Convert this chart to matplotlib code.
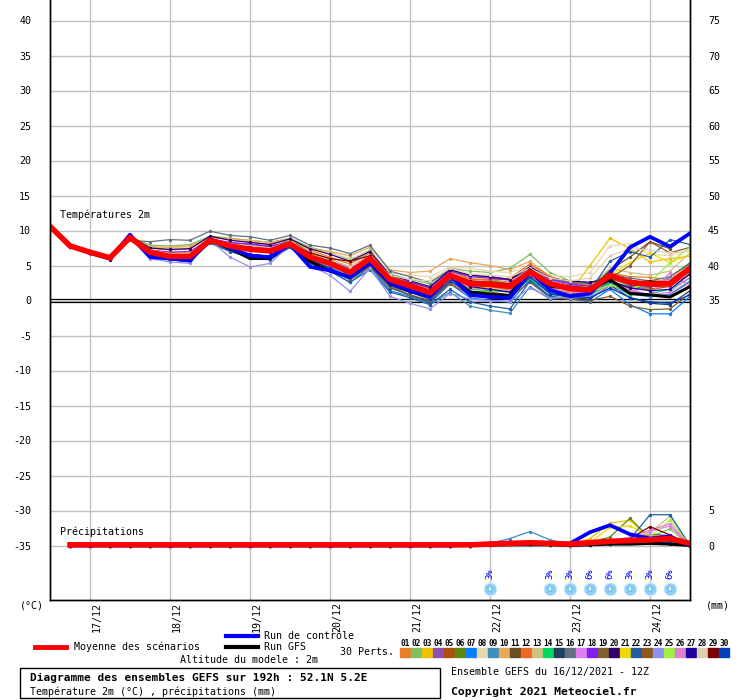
import matplotlib
matplotlib.use("Agg")
import matplotlib.pyplot as plt
from matplotlib.lines import Line2D
from matplotlib.patches import Rectangle

# forecast steps (hours from 16/12 12Z)
hours = list(range(0, 193, 6))
day_hours = [12, 36, 60, 84, 108, 132, 156, 180]
day_labels = ['17/12', '18/12', '19/12', '20/12', '21/12', '22/12', '23/12', '24/12']
left_ticks = [40, 35, 30, 25, 20, 15, 10, 5, 0, -5, -10, -15, -20, -25, -30, -35]
right_labels = ['75', '70', '65', '60', '55', '50', '45', '40', '35', '', '', '', '', '', '5', '0']

# temperature 2m, mean / control / GFS
mean_t = [10.6, 7.8, 6.9, 6.1, 9.0, 6.9, 6.3, 6.3, 8.6, 7.8, 7.3, 7.1, 8.1, 6.2, 5.3, 4.0, 6.0,
          3.0, 2.1, 1.1, 3.6, 2.4, 2.3, 2.0, 4.1, 2.4, 1.7, 1.5, 3.6, 2.6, 2.3, 2.4, 4.6]
ctrl_t = [10.6, 7.8, 6.8, 6.0, 9.4, 6.2, 6.0, 5.7, 8.8, 7.5, 6.4, 6.2, 8.0, 4.8, 4.3, 3.3, 5.4,
          2.5, 1.4, 0.6, 3.6, 0.8, 0.5, 0.4, 4.1, 1.5, 0.6, 1.0, 3.9, 7.6, 9.1, 7.7, 9.6]
gfs_t = [10.6, 7.8, 6.8, 6.0, 9.3, 6.5, 6.0, 5.8, 8.7, 7.4, 6.0, 6.0, 8.1, 5.6, 4.2, 3.4, 5.5,
         2.4, 1.3, 0.6, 3.4, 1.2, 0.9, 0.7, 4.4, 2.0, 1.8, 1.5, 3.0, 1.0, 0.8, 0.5, 2.0]

m01_t = [10.7, 7.9, 7.0, 6.2, 9.2, 7.5, 7.2, 7.4, 9.1, 8.7, 8.4, 8.0, 8.8, 7.2, 6.2, 5.2, 6.8, 3.4, 2.6, 1.8, 4.3, 3.1, 3.0, 2.6, 4.8, 3.2, 2.5, 2.2, 4.0, 3.4, 3.3, 3.0, 5.0]
m02_t = [10.5, 7.8, 6.9, 6.0, 9.1, 7.9, 7.8, 8.0, 9.2, 8.9, 8.6, 8.3, 8.9, 7.6, 6.9, 5.8, 7.2, 3.8, 3.0, 2.4, 4.6, 4.2, 4.0, 4.6, 6.6, 4.0, 2.8, 2.5, 3.2, 2.0, 1.5, 2.6, 4.0]
m03_t = [10.6, 7.7, 6.8, 6.0, 8.9, 6.8, 6.3, 6.4, 8.6, 7.8, 7.3, 7.0, 8.1, 6.4, 5.2, 3.9, 5.6, 2.6, 1.8, 0.8, 3.2, 2.0, 1.8, 1.5, 3.6, 1.8, 1.2, 5.0, 8.9, 7.4, 5.5, 6.0, 6.3]
m04_t = [10.6, 7.9, 6.9, 6.1, 9.0, 6.9, 6.4, 6.5, 8.8, 8.2, 8.1, 7.8, 8.4, 6.2, 5.4, 4.0, 5.5, 2.4, 1.4, 0.4, 3.0, 2.2, 2.0, 1.6, 3.8, 2.8, 2.2, 2.0, 3.0, 1.2, 0.6, 0.9, 2.6]
m05_t = [10.7, 7.7, 6.7, 5.9, 9.1, 6.3, 5.8, 5.6, 8.3, 7.2, 6.6, 6.3, 7.6, 5.5, 4.4, 3.0, 5.0, 2.0, 1.2, 0.2, 2.6, 1.3, 1.2, 0.8, 3.2, 1.6, 1.0, 0.8, 2.4, 1.8, 1.6, 2.0, 3.8]
m06_t = [10.6, 7.8, 6.8, 6.0, 9.4, 7.2, 6.6, 6.8, 9.0, 8.0, 7.5, 7.2, 8.8, 6.8, 5.6, 4.4, 6.0, 3.0, 2.2, 1.2, 3.8, 2.6, 2.8, 2.4, 4.4, 2.2, 1.4, 1.2, 2.6, 2.0, 1.8, 3.4, 5.4]
m07_t = [10.5, 7.7, 6.8, 6.0, 8.8, 6.4, 5.8, 5.6, 8.3, 7.1, 6.2, 5.8, 7.6, 5.3, 4.2, 2.6, 4.8, 1.4, 0.6, -0.4, 2.4, 0.4, 0.0, -0.2, 3.0, 0.6, 0.2, -0.2, 1.6, -0.6, -1.9, -1.9, 0.6]
m08_t = [10.6, 7.9, 7.0, 6.3, 9.0, 7.6, 7.5, 7.6, 9.0, 8.7, 8.5, 8.2, 8.7, 7.5, 6.8, 6.0, 7.0, 4.0, 3.6, 3.4, 4.8, 4.6, 4.2, 4.0, 5.0, 3.6, 3.4, 4.0, 7.8, 8.1, 6.6, 6.4, 7.2]
m09_t = [10.6, 7.8, 6.9, 6.1, 8.9, 6.8, 6.2, 6.1, 8.5, 7.7, 7.2, 6.8, 8.0, 6.3, 5.0, 3.6, 5.2, 2.0, 0.8, -0.6, 1.2, -0.8, -1.4, -1.8, 2.0, 0.2, 0.4, 0.8, 2.6, 1.0, 0.5, 0.9, 2.8]
m10_t = [10.6, 7.9, 7.1, 6.3, 9.2, 7.7, 7.6, 7.8, 9.0, 8.8, 8.6, 8.3, 8.8, 7.4, 7.0, 6.4, 7.6, 4.4, 4.0, 4.2, 6.0, 5.4, 5.0, 4.4, 5.6, 3.4, 2.6, 2.2, 3.4, 2.8, 2.4, 2.8, 4.4]
m11_t = [10.6, 7.8, 6.9, 6.1, 9.1, 7.1, 6.6, 6.7, 8.7, 7.9, 7.4, 7.2, 8.3, 6.5, 5.4, 4.2, 5.8, 2.8, 1.9, 1.0, 3.4, 2.3, 2.1, 1.9, 3.9, 2.3, 1.5, 1.6, 4.4, 6.2, 8.4, 7.4, 9.6]
m12_t = [10.6, 7.8, 6.9, 6.2, 9.0, 7.2, 6.8, 6.9, 8.7, 8.1, 7.8, 7.6, 8.2, 6.9, 5.9, 4.8, 6.4, 3.4, 2.6, 1.6, 4.0, 3.0, 2.9, 3.2, 5.2, 3.4, 2.6, 2.2, 3.0, 2.4, 2.6, 3.0, 4.8]
m13_t = [10.5, 7.8, 6.9, 6.1, 8.8, 6.9, 6.5, 6.6, 8.6, 8.0, 7.7, 7.5, 8.2, 6.7, 5.7, 4.5, 6.1, 3.2, 2.4, 1.5, 4.0, 2.8, 2.6, 2.4, 4.2, 2.8, 2.0, 2.0, 4.6, 4.0, 3.6, 4.2, 6.8]
m14_t = [10.6, 7.7, 6.8, 6.0, 9.0, 7.0, 6.4, 6.4, 8.6, 7.8, 7.4, 7.0, 8.2, 6.4, 5.2, 4.0, 5.6, 2.4, 1.6, 0.6, 3.2, 1.6, 1.4, 1.2, 3.0, 1.2, 0.6, 0.8, 2.4, 0.8, 1.0, 1.6, 3.2]
m15_t = [10.6, 7.8, 6.8, 6.0, 9.1, 6.5, 5.8, 5.6, 8.4, 7.2, 6.4, 6.0, 7.8, 5.5, 4.5, 3.0, 5.0, 1.8, 0.8, -0.2, 2.8, 0.8, 0.4, 0.2, 3.4, 1.0, 0.4, 0.2, 2.2, 0.4, -0.4, -0.6, 1.4]
m16_t = [10.6, 7.9, 7.0, 6.2, 8.6, 8.4, 8.7, 8.6, 9.9, 9.3, 9.1, 8.6, 9.3, 7.9, 7.5, 6.7, 7.9, 4.2, 3.4, 2.6, 4.4, 3.6, 3.4, 3.0, 4.6, 3.0, 2.6, 2.4, 3.8, 3.2, 2.8, 3.4, 5.2]
m17_t = [10.6, 7.8, 6.9, 6.0, 8.9, 6.8, 6.2, 6.2, 8.8, 7.8, 7.2, 6.9, 8.4, 6.3, 5.1, 3.8, 5.4, 2.2, 1.2, 0.2, 2.8, 1.0, 0.6, 0.4, 3.6, 1.6, 0.8, 0.4, 2.2, 1.6, 0.8, 1.2, 3.4]
m18_t = [10.6, 7.8, 6.9, 6.1, 9.0, 7.2, 6.9, 7.0, 8.8, 8.3, 8.0, 7.7, 8.4, 6.8, 5.8, 4.6, 6.2, 3.2, 2.6, 1.8, 4.2, 3.4, 3.2, 2.9, 4.8, 3.0, 2.4, 2.0, 3.4, 2.2, 2.0, 2.2, 4.4]
m19_t = [10.6, 7.7, 6.8, 6.0, 9.0, 6.6, 6.0, 5.8, 8.3, 7.3, 6.6, 6.3, 7.9, 5.7, 4.6, 3.0, 4.8, 1.9, 0.8, 0.0, 2.4, 0.8, 0.6, 0.5, 2.6, 0.4, 0.2, 0.0, 0.6, -0.8, -1.3, -1.2, 1.0]
m20_t = [10.6, 7.8, 6.9, 6.1, 9.2, 7.5, 7.3, 7.4, 9.2, 8.6, 8.3, 8.0, 8.8, 7.4, 6.6, 5.6, 7.0, 3.6, 2.8, 2.0, 4.4, 3.6, 3.4, 3.0, 4.8, 3.2, 2.8, 2.6, 3.2, 2.6, 2.2, 2.6, 4.2]
m21_t = [10.6, 7.8, 6.9, 6.1, 9.0, 7.0, 6.4, 6.5, 8.6, 7.9, 7.5, 7.2, 8.2, 6.6, 5.5, 4.3, 5.9, 2.8, 1.9, 0.9, 3.4, 2.2, 2.0, 1.7, 3.8, 2.0, 1.5, 1.6, 3.6, 5.4, 6.8, 5.4, 6.6]
m22_t = [10.6, 7.8, 6.8, 6.0, 8.9, 6.4, 5.8, 5.7, 8.2, 7.0, 6.2, 5.9, 7.6, 5.4, 4.2, 2.6, 4.4, 1.2, 0.4, -0.6, 1.6, -0.2, -0.8, -1.2, 2.8, 0.6, 0.8, 1.4, 5.6, 7.0, 6.2, 8.7, 8.0]
m23_t = [10.6, 7.8, 6.9, 6.1, 9.1, 7.1, 6.7, 6.8, 8.7, 8.1, 7.7, 7.4, 8.4, 6.7, 5.6, 4.4, 6.0, 3.0, 2.2, 1.2, 3.6, 2.6, 2.4, 2.2, 4.2, 2.6, 2.0, 1.8, 3.2, 5.0, 8.4, 6.8, 7.6]
m24_t = [10.5, 7.7, 6.7, 5.8, 8.8, 6.0, 5.5, 5.3, 8.6, 6.2, 4.8, 5.3, 7.9, 5.0, 3.6, 1.3, 4.6, 0.6, -0.4, -1.2, 1.0, 0.2, 0.0, -0.2, 1.8, 0.4, 0.4, 0.6, 1.6, 1.2, 2.2, 3.2, 2.4]
m25_t = [10.6, 7.8, 6.9, 6.1, 9.0, 7.1, 6.6, 6.7, 8.7, 8.0, 7.6, 7.4, 8.3, 6.6, 5.6, 4.4, 6.0, 3.0, 2.2, 1.2, 3.8, 2.6, 2.4, 2.2, 4.2, 2.2, 1.6, 1.2, 2.2, 1.6, 2.6, 5.4, 7.6]
m26_t = [10.6, 7.8, 6.9, 6.1, 9.0, 6.9, 6.4, 6.4, 8.6, 7.9, 7.5, 7.2, 8.2, 6.4, 5.3, 4.0, 5.7, 2.6, 1.6, 0.6, 3.2, 1.8, 1.6, 1.4, 3.4, 1.8, 1.2, 1.0, 3.0, 1.4, 0.8, 4.0, 2.0]
m27_t = [10.6, 7.8, 6.9, 6.1, 9.1, 7.0, 6.5, 6.5, 8.7, 7.8, 7.3, 7.0, 8.2, 6.4, 5.3, 4.1, 5.8, 2.8, 2.0, 1.0, 3.6, 2.0, 1.6, 1.2, 4.4, 2.4, 2.0, 1.8, 2.8, 1.8, 1.4, 1.6, 3.8]
m28_t = [10.6, 7.8, 6.9, 6.1, 9.0, 7.2, 6.7, 6.8, 8.8, 8.1, 7.8, 7.5, 8.4, 6.8, 5.8, 4.8, 6.2, 3.6, 3.0, 2.8, 4.6, 3.8, 3.6, 3.4, 4.6, 3.2, 2.8, 3.2, 6.4, 7.4, 7.2, 6.8, 7.0]
m29_t = [10.6, 7.7, 6.8, 5.8, 8.9, 6.9, 6.4, 6.4, 8.6, 7.9, 7.6, 7.3, 8.2, 6.8, 6.0, 5.6, 6.4, 3.2, 2.4, 1.4, 3.8, 2.8, 2.6, 2.4, 4.2, 2.4, 1.8, 1.6, 3.4, 2.6, 2.8, 2.6, 4.4]
m30_t = [10.6, 7.8, 6.9, 6.0, 9.0, 6.5, 6.0, 5.8, 8.4, 7.3, 6.6, 6.3, 7.9, 5.8, 4.7, 3.3, 5.2, 2.2, 1.2, 0.2, 2.8, 1.2, 0.8, 0.6, 3.4, 1.0, 0.6, 0.4, 1.8, 0.4, -0.2, -0.4, 0.8]

# 6h precipitation (mm) from +6h; members dry before +120h
dry = [0.0] * 19
mean_p = [0.1] * 19 + [0.1, 0.1, 0.2, 0.3, 0.4, 0.3, 0.2, 0.4, 0.6, 0.7, 0.8, 1.0, 0.3]
ctrl_p = dry + [0.0, 0.1, 0.1, 0.2, 0.3, 0.2, 0.3, 1.9, 2.9, 1.6, 1.0, 1.3, 0.0]
gfs_p = dry + [0.0, 0.0, 0.1, 0.1, 0.1, 0.1, 0.0, 0.1, 0.2, 0.2, 0.3, 0.2, 0.0]

m01_p = dry + [0.0, 0.1, 0.1, 0.2, 0.3, 0.2, 0.1, 0.2, 0.3, 0.5, 0.4, 0.6, 0.0]
m02_p = dry + [0.0, 0.0, 0.1, 0.1, 0.2, 0.1, 0.1, 0.2, 0.2, 0.8, 1.2, 2.4, 0.0]
m03_p = dry + [0.0, 0.0, 0.0, 0.2, 0.3, 0.1, 0.1, 1.0, 3.2, 3.6, 1.0, 0.6, 0.0]
m04_p = dry + [0.0, 0.1, 0.4, 0.3, 0.4, 0.2, 0.2, 0.3, 0.2, 0.4, 0.3, 0.5, 0.0]
m05_p = dry + [0.0, 0.0, 0.1, 0.1, 0.1, 0.1, 0.0, 0.2, 0.3, 0.4, 0.6, 0.5, 0.0]
m06_p = dry + [0.0, 0.0, 0.1, 0.1, 0.2, 0.1, 0.1, 0.5, 1.2, 3.9, 1.0, 0.4, 0.0]
m07_p = dry + [0.0, 0.0, 0.2, 0.4, 0.3, 0.2, 0.1, 0.2, 0.3, 0.5, 0.8, 0.6, 0.0]
m08_p = dry + [0.0, 0.1, 0.1, 0.3, 0.2, 0.2, 0.1, 0.1, 0.4, 0.6, 0.8, 1.0, 0.0]
m09_p = dry + [0.0, 0.1, 0.3, 1.0, 2.0, 0.8, 0.2, 0.3, 0.4, 0.6, 0.5, 0.7, 0.0]
m10_p = dry + [0.0, 0.1, 0.2, 0.5, 0.3, 0.2, 0.1, 0.2, 0.3, 0.4, 0.5, 0.6, 0.0]
m11_p = dry + [0.0, 0.0, 0.1, 0.1, 0.2, 0.1, 0.1, 0.1, 0.2, 0.8, 1.6, 1.4, 0.0]
m12_p = dry + [0.0, 0.0, 0.1, 0.4, 0.3, 0.2, 0.1, 0.1, 0.2, 0.3, 0.4, 0.5, 0.0]
m13_p = dry + [0.0, 0.0, 0.0, 0.1, 0.2, 0.1, 0.1, 0.2, 0.3, 0.6, 1.8, 4.2, 0.0]
m14_p = dry + [0.0, 0.0, 0.1, 0.2, 0.1, 0.1, 0.0, 0.1, 0.2, 0.3, 0.4, 0.3, 0.0]
m15_p = dry + [0.0, 0.0, 0.1, 0.1, 0.2, 0.3, 0.2, 0.1, 0.4, 0.6, 0.5, 0.4, 0.0]
m16_p = dry + [0.0, 0.0, 0.1, 0.2, 0.3, 0.2, 0.1, 0.2, 0.3, 0.3, 0.6, 0.4, 0.0]
m17_p = dry + [0.0, 0.0, 0.1, 0.2, 0.3, 0.2, 0.1, 0.2, 0.5, 0.7, 2.0, 2.8, 0.0]
m18_p = dry + [0.0, 0.1, 0.5, 0.6, 0.4, 0.3, 0.2, 0.3, 0.4, 0.5, 0.3, 0.4, 0.0]
m19_p = dry + [0.0, 0.0, 0.1, 0.1, 0.2, 0.1, 0.1, 0.2, 0.3, 0.4, 0.5, 0.6, 0.0]
m20_p = dry + [0.0, 0.0, 0.2, 0.3, 0.4, 0.3, 0.2, 0.1, 0.2, 0.3, 0.4, 0.2, 0.0]
m21_p = dry + [0.0, 0.0, 0.1, 0.1, 0.2, 0.1, 0.1, 0.4, 2.6, 2.8, 1.4, 0.8, 0.0]
m22_p = dry + [0.0, 0.0, 0.1, 0.2, 0.4, 0.3, 0.2, 0.3, 0.5, 0.9, 4.4, 4.4, 0.0]
m23_p = dry + [0.0, 0.0, 0.1, 0.2, 0.3, 0.2, 0.1, 0.2, 0.4, 0.5, 0.6, 0.7, 0.0]
m24_p = dry + [0.0, 0.0, 0.1, 0.1, 0.2, 0.2, 0.1, 0.3, 0.6, 1.2, 1.4, 1.0, 0.0]
m25_p = dry + [0.0, 0.0, 0.0, 0.1, 0.1, 0.1, 0.1, 0.2, 0.3, 0.4, 1.2, 3.6, 0.0]
m26_p = dry + [0.0, 0.0, 0.1, 0.2, 0.2, 0.1, 0.1, 0.3, 0.6, 1.2, 2.2, 3.1, 0.0]
m27_p = dry + [0.0, 0.0, 0.2, 0.3, 0.4, 0.3, 0.2, 0.3, 0.5, 0.6, 0.7, 0.8, 0.0]
m28_p = dry + [0.0, 0.0, 0.1, 0.1, 0.2, 0.2, 0.1, 0.2, 0.4, 0.5, 0.8, 1.2, 0.0]
m29_p = dry + [0.0, 0.0, 0.1, 0.2, 0.2, 0.1, 0.1, 0.2, 0.4, 1.0, 2.7, 1.5, 0.0]
m30_p = dry + [0.0, 0.0, 0.1, 0.3, 0.2, 0.2, 0.1, 0.2, 0.4, 0.6, 0.5, 0.9, 0.0]

member_colors = ['#e8802a', '#80c060', '#f0c000', '#9050b0', '#b05010', '#5a8a10',
                 '#0a80ff', '#e8d8b0', '#3a90c0', '#e8a858', '#6a5020', '#f06820',
                 '#d0c080', '#00d860', '#204060', '#607080', '#e080f0', '#8020f0',
                 '#806030', '#300070', '#f0d800', '#2060a0', '#905820', '#9090f0',
                 '#a0f040', '#e080d0', '#2000a0', '#e0d0b0', '#800000', '#0040c0']

# snow probability markers
snow_hours = [132, 150, 156, 162, 168, 174, 180, 186]
snow_pct = ['3%', '3%', '3%', '6%', '6%', '3%', '3%', '6%']

members_t = [m01_t, m02_t, m03_t, m04_t, m05_t, m06_t, m07_t, m08_t, m09_t, m10_t,
             m11_t, m12_t, m13_t, m14_t, m15_t, m16_t, m17_t, m18_t, m19_t, m20_t,
             m21_t, m22_t, m23_t, m24_t, m25_t, m26_t, m27_t, m28_t, m29_t, m30_t]
members_p = [m01_p, m02_p, m03_p, m04_p, m05_p, m06_p, m07_p, m08_p, m09_p, m10_p,
             m11_p, m12_p, m13_p, m14_p, m15_p, m16_p, m17_p, m18_p, m19_p, m20_p,
             m21_p, m22_p, m23_p, m24_p, m25_p, m26_p, m27_p, m28_p, m29_p, m30_p]

W, H = 740, 700
MONO = 'DejaVu Sans Mono'
FS = 7.2
P0 = -35  # precipitation zero drawn at -35 on the temperature scale


def fx(x):
    return x / W


def fy(y):
    return 1 - y / H


fig = plt.figure(figsize=(W / 100, H / 100), dpi=100)
ax = fig.add_axes([fx(50), fy(600), fx(690) - fx(50), fy(0) - fy(600)])
ax.set_xlim(0, 192)
ax.set_ylim(40 - 579.5 / 7, 40 + 20.5 / 7)

for h in day_hours:
    ax.axvline(h, color='#c0c0c0', lw=1, zorder=0)
for v in left_ticks:
    ax.axhline(v, color='#c0c0c0', lw=1, zorder=0)
ax.axhline(0.18, color='black', lw=0.9, zorder=1)
ax.axhline(-0.18, color='black', lw=0.9, zorder=1)

ph = hours[1:]
for col, t, p in zip(member_colors, members_t, members_p):
    ax.plot(hours, t, color=col, lw=0.9, marker='.', ms=2.8, zorder=2)
    ax.plot(ph, [P0 + v for v in p], color=col, lw=0.9, marker='.', ms=2.8, zorder=2)

ax.plot(hours, gfs_t, color='black', lw=2.2, zorder=3)
ax.plot(ph, [P0 + v for v in gfs_p], color='black', lw=2.2, zorder=3)
ax.plot(hours, ctrl_t, color='#0000ff', lw=2.7, zorder=4)
ax.plot(ph, [P0 + v for v in ctrl_p], color='#0000ff', lw=2.7, zorder=4)
ax.plot(hours, mean_t, color='#ff0000', lw=4, zorder=5)
ax.plot(ph, [P0 + v for v in mean_p], color='#ff0000', lw=4, zorder=5)

# snowflake icons with probability labels
for h, pct in zip(snow_hours, snow_pct):
    ax.plot(h, -41.2, marker='o', ms=9, mfc='#8ecff2', mec='#c8ecfc', mew=0.6, zorder=6)
    ax.plot(h, -41.2, marker='*', ms=5.5, mfc='white', mec='#4aa8e0', mew=0.3, zorder=7)
    ax.text(h, -39.8, pct, rotation=90, ha='center', va='bottom', color='#0000ff',
            fontsize=6.3, family=MONO, zorder=7)

ax.text(3, 12.3, 'Températures 2m', fontsize=FS, family=MONO, va='center')
ax.text(3, -33.0, 'Précipitations', fontsize=FS, family=MONO, va='center')

ax.set_yticks(left_ticks)
ax.set_yticklabels([str(v) for v in left_ticks], family=MONO, fontsize=FS)
ax.tick_params(axis='y', length=0, pad=13.5)
ax.set_xticks(day_hours)
ax.set_xticklabels([])
ax.tick_params(axis='x', length=0)
rax = ax.twinx()
rax.set_ylim(ax.get_ylim())
rax.set_yticks(left_ticks)
rax.set_yticklabels(right_labels, family=MONO, fontsize=FS)
rax.tick_params(axis='y', length=0, pad=13)

for a in (ax, rax):
    a.spines['top'].set_visible(False)
    for s in ('left', 'right', 'bottom'):
        a.spines[s].set_linewidth(1)
        a.spines[s].set_color('black')

for h, lab in zip(day_hours, day_labels):
    x = 50 + h / 192 * 640 + 7
    fig.text(fx(x), fy(602), lab, rotation=90, ha='center', va='top', fontsize=FS, family=MONO)

fig.text(fx(32), fy(606), '(°C)', ha='center', va='center', fontsize=FS, family=MONO)
fig.text(fx(718), fy(606), '(mm)', ha='center', va='center', fontsize=FS, family=MONO)

# legend
fig.add_artist(Line2D([fx(35), fx(66)], [fy(647), fy(647)], color='#ff0000', lw=3.5))
fig.text(fx(74), fy(647), 'Moyenne des scénarios', va='center', fontsize=FS, family=MONO)
fig.add_artist(Line2D([fx(226), fx(258)], [fy(636), fy(636)], color='#0000ff', lw=3))
fig.text(fx(264), fy(636), 'Run de contrôle', va='center', fontsize=FS, family=MONO)
fig.add_artist(Line2D([fx(226), fx(258)], [fy(647), fy(647)], color='black', lw=3))
fig.text(fx(264), fy(647), 'Run GFS', va='center', fontsize=FS, family=MONO)
fig.text(fx(340), fy(652), '30 Perts.', va='center', fontsize=FS, family=MONO)
fig.text(fx(249), fy(660), 'Altitude du modele : 2m', ha='center', va='center',
         fontsize=FS, family=MONO)

for k, col in enumerate(member_colors):
    x0 = 400 + k * 11
    fig.add_artist(Rectangle((fx(x0), fy(657)), 10 / W, 9 / H, color=col,
                             transform=fig.transFigure))
    fig.text(fx(x0 + 5), fy(643), '%02d' % (k + 1), ha='center', va='center',
             fontsize=5.6, family=MONO, weight='bold')

fig.add_artist(Rectangle((fx(20), fy(698)), 420 / W, 30 / H, fill=False, ec='black',
                         lw=1, transform=fig.transFigure))
fig.text(fx(30), fy(678), 'Diagramme des ensembles GEFS sur 192h : 52.1N 5.2E', va='center',
         fontsize=8.0, family=MONO, weight='bold')
fig.text(fx(30), fy(692), 'Température 2m (°C) , précipitations (mm)', va='center',
         fontsize=FS, family=MONO)
fig.text(fx(451), fy(672), 'Ensemble GEFS du 16/12/2021 - 12Z', va='center',
         fontsize=FS, family=MONO)
fig.text(fx(451), fy(692), 'Copyright 2021 Meteociel.fr', va='center',
         fontsize=8.2, family=MONO, weight='bold')

fig.savefig('out.png', dpi=100)
